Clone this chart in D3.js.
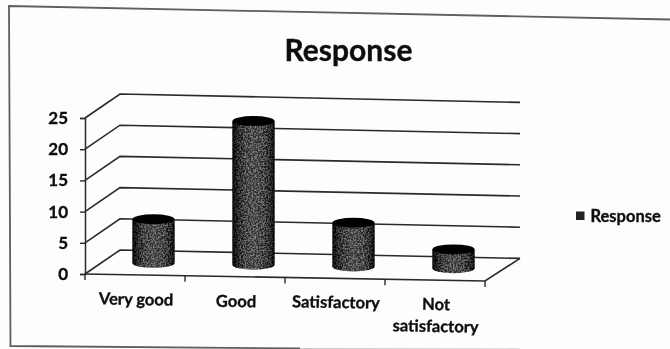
<!DOCTYPE html>
<html>
<head>
<meta charset="utf-8">
<script src="https://cdn.jsdelivr.net/npm/d3@7/dist/d3.min.js"></script>
<style>
html,body{margin:0;padding:0;background:#fdfdfd;overflow:hidden}
text{font-family:Lato,"Open Sans",sans-serif;font-weight:700;fill:#111;stroke:#111;stroke-width:.35px}
</style>
</head>
<body>
<script>
const categories = ["Very good", "Good", "Satisfactory", "Not satisfactory"];
const values = [7, 23, 7, 3];
const yTicks = [0, 5, 10, 15, 20, 25];
const seriesName = "Response";
const chartTitle = "Response";

const W = 670, H = 349;
const svg = d3.select("body").append("svg").attr("width", W).attr("height", H).style("display", "block");
const defs = svg.append("defs");

const soft = defs.append("filter").attr("id", "soft").attr("x", "-5%").attr("y", "-5%").attr("width", "110%").attr("height", "110%");
soft.append("feGaussianBlur").attr("stdDeviation", 0.6);

const grain = defs.append("filter").attr("id", "grain").attr("x", "0").attr("y", "0").attr("width", "100%").attr("height", "100%");
grain.append("feTurbulence").attr("type", "fractalNoise").attr("baseFrequency", 0.6).attr("numOctaves", 2).attr("seed", 4).attr("result", "n");
grain.append("feColorMatrix").attr("in", "n").attr("type", "matrix")
  .attr("values", "0 0 0 0 0.42  0 0 0 0 0.42  0 0 0 0 0.42  1.5 0 0 0 -0.62").attr("result", "spots");
grain.append("feComposite").attr("in", "spots").attr("in2", "SourceAlpha").attr("operator", "in").attr("result", "clipped");
// darken the spots towards the cylinder edges by compositing them under the shaded edge overlay
const merge = grain.append("feMerge");
merge.append("feMergeNode").attr("in", "SourceGraphic");
merge.append("feMergeNode").attr("in", "clipped");

const shade = defs.append("linearGradient").attr("id", "shade");
[[0, "#050505"], [0.14, "#161616"], [0.5, "#363636"], [0.85, "#1a1a1a"], [1, "#050505"]]
  .forEach(([o, c]) => shade.append("stop").attr("offset", o).attr("stop-color", c));

const edgeShade = defs.append("linearGradient").attr("id", "edgeShade");
[[0, 0.85], [0.16, 0.25], [0.3, 0], [0.75, 0], [0.9, 0.3], [1, 0.85]]
  .forEach(([o, a]) => edgeShade.append("stop").attr("offset", o).attr("stop-color", "#000").attr("stop-opacity", a));

// Plot box: front-left corner, floor tilt and depth offset of the 3D walls
const x = d3.scaleBand().domain(categories).range([85, 485]).paddingInner(0).paddingOuter(0);
const y = d3.scaleLinear().domain([0, 25]).range([274, 118]);
const tilt = 0.0175, depthX = 35, depthY = -24;
const floorY = px => y(0) + (px - 85) * tilt;
const root = svg.append("g").attr("filter", "url(#soft)");

// scanned page frame
root.append("path")
  .attr("d", d3.line()([[670, 19.5], [9, 6], [10.5, 346], [300, 348.5]]))
  .attr("fill", "none").attr("stroke", "#5e5e5e").attr("stroke-width", 1.8);
root.append("path")
  .attr("d", d3.line()([[300, 348.5], [520, 349]]))
  .attr("fill", "none").attr("stroke", "#c8c8c8").attr("stroke-width", 1.2);

const lineCol = "#2a2a2a";
const grid = root.append("g").attr("fill", "none").attr("stroke", lineCol).attr("stroke-width", 1.6);
yTicks.forEach(t => {
  const yy = y(t);
  grid.append("path").attr("d", d3.line()([
    [85, yy],
    [85 + depthX, yy + depthY],
    [485 + depthX, yy + depthY + 400 * 0.021]
  ]));
});
// floor, right edge
grid.append("path").attr("d", d3.line()([
  [85, floorY(85)], [485, floorY(485)], [485 + depthX, y(0) + depthY + 400 * 0.021]
]));

// left axis via d3.axisLeft
const axL = root.append("g").attr("transform", "translate(85,0)")
  .call(d3.axisLeft(y).tickValues(yTicks).tickSize(5).tickPadding(12));
axL.select(".domain").attr("stroke", lineCol).attr("stroke-width", 1.5);
axL.selectAll(".tick line").attr("stroke", lineCol).attr("stroke-width", 1.4);
axL.selectAll("text").style("font-size", "17px").style("font-family", "Lato,sans-serif").style("font-weight", 700);

// bottom ticks at band edges
const edges = categories.map(c => x(c)).concat([x.range()[1]]);
root.append("g").selectAll("line").data(edges).join("line")
  .attr("x1", d => d).attr("x2", d => d)
  .attr("y1", d => floorY(d)).attr("y2", d => floorY(d) + 6)
  .attr("stroke", lineCol).attr("stroke-width", 1.4);

// category labels
const labelRows = d => d === "Not satisfactory" ? ["Not", "satisfactory"] : [d];
const lab = root.append("g");
categories.forEach(c => {
  const cx = x(c) + x.bandwidth() / 2 + 1;
  const t = lab.append("text").attr("text-anchor", "middle")
    .attr("font-size", 16.5)
    .attr("transform", `rotate(1 ${cx} 305)`);
  const base = c === "Very good" ? 305 : c === "Good" ? 307 : c === "Satisfactory" ? 308 : 310;
  labelRows(c).forEach((r, i) => t.append("tspan").attr("x", cx).attr("y", base + i * 22).text(r));
});

// cylinders
const rx = 21, ry = 5;
const bars = root.append("g");
categories.forEach((c, i) => {
  const fx = x(c) + x.bandwidth() / 2;
  const cx = fx + depthX / 2 + 1;
  const base = floorY(fx) + depthY / 2;
  const top = base - (y(0) - y(values[i]));
  const body = `M${cx - rx},${top}L${cx - rx},${base}A${rx},${ry} 0 0 0 ${cx + rx},${base}L${cx + rx},${top}Z`;
  bars.append("path").attr("d", body).attr("fill", "url(#shade)").attr("filter", "url(#grain)");
  bars.append("path").attr("d", body).attr("fill", "url(#edgeShade)");
  bars.append("ellipse")
    .attr("cx", cx).attr("cy", top).attr("rx", rx).attr("ry", ry)
    .attr("fill", "#060606");
});

// title
root.append("text").attr("x", 348.5).attr("y", 61).attr("text-anchor", "middle")
  .attr("font-size", 30).text(chartTitle);

// legend
root.append("rect").attr("x", 576).attr("y", 211.5).attr("width", 8.5).attr("height", 8.5).attr("fill", "#222");
root.append("text").attr("x", 590.5).attr("y", 222).attr("font-size", 16.5).text(seriesName);
</script>
</body>
</html>
